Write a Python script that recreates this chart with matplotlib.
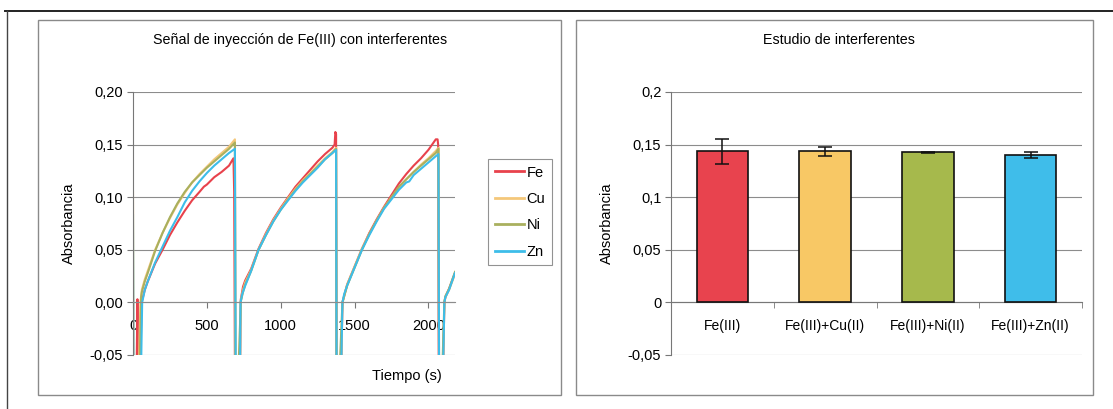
# Señal de inyección de Fe(III) con interferentes + estudio de interferentes

import matplotlib
matplotlib.use("Agg")
from matplotlib import pyplot as plt
from matplotlib.patches import Rectangle
from matplotlib.lines import Line2D
from matplotlib.ticker import FixedLocator, FuncFormatter

plt.rcParams['font.family'] = ['Liberation Sans', 'DejaVu Sans']

# ---- Data ----
# Fe signal
t_fe = [0, 25, 30, 35, 50, 58, 80, 100, 150, 200, 250, 300, 350, 400, 450, 480, 500, 550, 600, 650, 680, 685, 690,
        725, 730, 745, 760, 800, 850, 900, 950, 1000, 1050, 1100, 1150, 1200, 1250, 1300, 1350, 1365, 1370, 1375, 1378,
        1410, 1418, 1450, 1500, 1550, 1600, 1650, 1700, 1750, 1800, 1850, 1900, 1950, 2000, 2030, 2050, 2062, 2066, 2070,
        2100, 2108, 2115, 2140, 2180]
a_fe = [-0.06, -0.06, 0.003, -0.06, -0.06, 0.0, 0.012, 0.020, 0.037, 0.050, 0.064, 0.076, 0.087, 0.097, 0.105, 0.110, 0.112, 0.119, 0.124, 0.130, 0.137, 0.105, -0.06,
        -0.06, 0.003, 0.015, 0.021, 0.032, 0.051, 0.066, 0.079, 0.090, 0.100, 0.110, 0.118, 0.126, 0.134, 0.141, 0.147, 0.150, 0.162, 0.160, -0.06,
        -0.06, 0.0, 0.017, 0.034, 0.051, 0.066, 0.079, 0.091, 0.102, 0.113, 0.122, 0.130, 0.137, 0.145, 0.151, 0.155, 0.155, 0.150, -0.06,
        -0.06, 0.0, 0.005, 0.013, 0.028]

# Cu signal
t_cu = [0, 5, 40, 50, 60, 80, 100, 150, 200, 250, 300, 350, 400, 450, 500, 550, 600, 650, 690, 693,
        725, 730, 745, 760, 800, 850, 900, 950, 1000, 1050, 1100, 1150, 1200, 1250, 1300, 1350, 1375, 1378,
        1410, 1418, 1450, 1500, 1550, 1600, 1650, 1700, 1750, 1800, 1850, 1900, 1950, 2000, 2050, 2068, 2072,
        2100, 2108, 2115, 2140, 2180]
a_cu = [0.105, -0.06, -0.06, 0.0, 0.012, 0.022, 0.030, 0.050, 0.066, 0.080, 0.093, 0.104, 0.114, 0.122, 0.129, 0.136, 0.142, 0.148, 0.155, -0.06,
        -0.06, 0.002, 0.012, 0.019, 0.031, 0.050, 0.065, 0.078, 0.089, 0.099, 0.108, 0.116, 0.123, 0.130, 0.137, 0.143, 0.147, -0.06,
        -0.06, 0.0, 0.017, 0.034, 0.051, 0.065, 0.078, 0.090, 0.100, 0.109, 0.117, 0.124, 0.131, 0.137, 0.144, 0.147, -0.06,
        -0.06, 0.0, 0.005, 0.012, 0.027]

# Ni signal
t_ni = [0, 45, 55, 60, 80, 100, 150, 200, 250, 300, 350, 400, 450, 500, 550, 600, 650, 690, 694,
        715, 730, 745, 760, 800, 850, 900, 950, 1000, 1050, 1100, 1150, 1200, 1250, 1300, 1350, 1375, 1378,
        1400, 1418, 1450, 1500, 1550, 1600, 1650, 1700, 1750, 1800, 1850, 1900, 1950, 2000, 2050, 2068, 2072,
        2095, 2108, 2115, 2140, 2180]
a_ni = [-0.06, -0.06, 0.005, 0.010, 0.020, 0.028, 0.049, 0.066, 0.081, 0.094, 0.105, 0.114, 0.121, 0.128, 0.134, 0.140, 0.146, 0.152, -0.06,
        -0.06, 0.001, 0.010, 0.017, 0.030, 0.050, 0.064, 0.077, 0.088, 0.098, 0.107, 0.115, 0.122, 0.129, 0.136, 0.142, 0.146, -0.06,
        -0.06, 0.0, 0.016, 0.033, 0.050, 0.065, 0.078, 0.090, 0.100, 0.110, 0.117, 0.124, 0.130, 0.136, 0.142, 0.146, -0.06,
        -0.06, 0.0, 0.006, 0.013, 0.029]

# Zn signal
t_zn = [0, 3, 55, 62, 80, 100, 150, 200, 250, 300, 350, 400, 450, 500, 550, 600, 650, 690, 695,
        725, 728, 740, 760, 800, 850, 900, 950, 1000, 1050, 1100, 1150, 1200, 1250, 1300, 1350, 1375, 1378,
        1410, 1418, 1430, 1450, 1500, 1550, 1600, 1650, 1700, 1750, 1800, 1850, 1870, 1900, 1950, 2000, 2050, 2068, 2072,
        2100, 2108, 2115, 2140, 2180]
a_zn = [0.083, -0.06, -0.06, 0.0, 0.012, 0.020, 0.038, 0.053, 0.068, 0.081, 0.095, 0.106, 0.115, 0.123, 0.130, 0.136, 0.142, 0.146, -0.06,
        -0.06, 0.0, 0.008, 0.016, 0.030, 0.050, 0.064, 0.077, 0.088, 0.097, 0.106, 0.114, 0.121, 0.128, 0.136, 0.142, 0.145, -0.06,
        -0.06, 0.0, 0.008, 0.016, 0.033, 0.050, 0.064, 0.077, 0.089, 0.098, 0.107, 0.114, 0.115, 0.121, 0.127, 0.133, 0.139, 0.141, -0.06,
        -0.06, 0.0, 0.005, 0.012, 0.028]

series_names = ["Fe", "Cu", "Ni", "Zn"]
line_colors = ["#e8424c", "#f4c77a", "#a9b05e", "#3dbde9"]

# Bar chart
categories = ["Fe(III)", "Fe(III)+Cu(II)", "Fe(III)+Ni(II)", "Fe(III)+Zn(II)"]
means = [0.1435, 0.1435, 0.1425, 0.1400]
errors = [0.0115, 0.0040, 0.0007, 0.0025]
bar_colors = ["#e8434e", "#f8c865", "#a6b94c", "#3fbdea"]

W, H = 1113, 409
fig = plt.figure(figsize=(W / 100, H / 100), dpi=100)
fig.patch.set_facecolor("white")


def fx(px):
    return px / W


def fy(py):
    return 1 - py / H


# outer frame (top and left lines) and chart boxes
fig.add_artist(Line2D([fx(5), 1.0], [fy(11), fy(11)], color="#222222", lw=1.4))
fig.add_artist(Line2D([fx(7), fx(7)], [fy(11), 0.0], color="#444444", lw=1.0))
for x0, x1 in [(38, 561), (576, 1093)]:
    fig.add_artist(Rectangle((fx(x0), fy(395)), fx(x1 - x0), (395 - 20) / H,
                             fill=False, edgecolor="#8a8a8a", lw=1.0))

grid_kw = dict(color="#8c8c8c", lw=0.8)


def comma(v, n):
    return f"{v:.{n}f}".replace(".", ",")


# ---- Left chart: time signal ----
ax1 = fig.add_axes([fx(133), fy(355), fx(455 - 133), (355 - 92) / H])
for t, a, c, name in zip([t_fe, t_cu, t_ni, t_zn], [a_fe, a_cu, a_ni, a_zn], line_colors, series_names):
    ax1.plot(t, a, color=c, lw=1.5, label=name, solid_joinstyle="round")

ax1.set_xlim(0, 2180)
ax1.set_ylim(-0.05, 0.20)
ax1.yaxis.set_major_locator(FixedLocator([-0.05, 0, 0.05, 0.10, 0.15, 0.20]))
ax1.yaxis.set_major_formatter(FuncFormatter(lambda v, p: comma(v, 2)))
ax1.xaxis.set_major_locator(FixedLocator([0, 500, 1000, 1500, 2000]))
ax1.grid(axis="y", **grid_kw)
ax1.set_axisbelow(True)
ax1.spines["bottom"].set_position(("data", 0))
ax1.spines["bottom"].set_color("#8c8c8c")
ax1.spines["left"].set_color("#777777")
ax1.spines["top"].set_visible(False)
ax1.spines["right"].set_visible(False)
ax1.tick_params(axis="x", direction="out", length=4, color="#777777", labelsize=10.5, pad=8)
ax1.tick_params(axis="y", direction="out", length=4, color="#777777", labelsize=10.5, pad=3)
ax1.set_ylabel("Absorbancia", fontsize=10.5, labelpad=10)

fig.text(fx(300), fy(40), "Señal de inyección de Fe(III) con interferentes",
         ha="center", va="center", fontsize=10.3)
fig.text(fx(407), fy(376), "Tiempo (s)", ha="center", va="center", fontsize=10.5)

leg = fig.legend(handles=ax1.get_lines(), labels=series_names, loc="upper left",
                 bbox_to_anchor=(fx(488), fy(159)), frameon=True, fancybox=False,
                 edgecolor="#777777", fontsize=10.5, handlelength=2.0, handletextpad=0.2,
                 labelspacing=0.85, borderpad=0.45, borderaxespad=0)
leg.get_frame().set_linewidth(0.8)
for ln in leg.get_lines():
    ln.set_linewidth(2.0)

# ---- Right chart: bars ----
ax2 = fig.add_axes([fx(671), fy(355), fx(1082 - 671), (355 - 92) / H])
pos = range(len(categories))
ax2.bar(pos, means, width=0.5, color=bar_colors, edgecolor="#111111", lw=1.2, zorder=3)
ax2.errorbar(pos, means, yerr=errors, fmt="none", ecolor="#111111", elinewidth=1.1,
             capsize=5, capthick=1.1, zorder=4)
ax2.set_xlim(-0.5, 3.5)
ax2.set_ylim(-0.05, 0.2)
ax2.yaxis.set_major_locator(FixedLocator([-0.05, 0, 0.05, 0.1, 0.15, 0.2]))
ax2.yaxis.set_major_formatter(FuncFormatter(lambda v, p: "0" if abs(v) < 1e-9 else f"{v:g}".replace(".", ",")))
ax2.set_xticks(list(pos))
ax2.set_xticklabels(categories)
ax2.set_xticks([0.5, 1.5, 2.5, 3.5], minor=True)
ax2.grid(axis="y", **grid_kw)
ax2.set_axisbelow(True)
ax2.spines["bottom"].set_position(("data", 0))
ax2.spines["bottom"].set_color("#777777")
ax2.spines["left"].set_color("#777777")
ax2.spines["top"].set_visible(False)
ax2.spines["right"].set_visible(False)
ax2.tick_params(axis="x", which="major", length=0, labelsize=10, pad=12)
ax2.tick_params(axis="x", which="minor", direction="out", length=4, color="#777777")
ax2.tick_params(axis="y", direction="out", length=4, color="#777777", labelsize=10.5, pad=3)
ax2.set_ylabel("Absorbancia", fontsize=10.5, labelpad=10)

fig.text(fx(839), fy(40), "Estudio de interferentes", ha="center", va="center", fontsize=10.3)

plt.savefig("out.png", dpi=100, facecolor="white")
